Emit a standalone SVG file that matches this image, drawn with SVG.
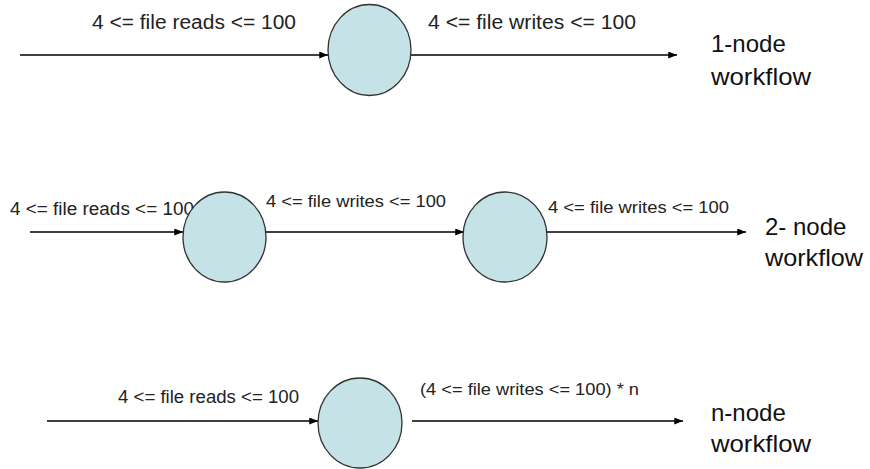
<svg xmlns="http://www.w3.org/2000/svg" width="870" height="469" viewBox="0 0 870 469">
<style>
.bg{fill:#ffffff}
.edge{stroke:#000;stroke-width:1.3;fill:none;marker-end:url(#arr)}
.node{fill:#c5e2e6;stroke:#333;stroke-width:1.3}
.lbl{font-family:"Liberation Sans",Arial,sans-serif;fill:#222}
.big{font-family:"Liberation Sans",Arial,sans-serif;fill:#111;font-size:24px}
</style>
<defs>
<marker id="arr" viewBox="0 0 10 8" refX="10" refY="4" markerWidth="9" markerHeight="7" markerUnits="userSpaceOnUse" orient="auto">
<path d="M0,0 L10,4 L0,8 z" fill="#000"/>
</marker>
</defs>
<rect class="bg" width="870" height="469"/>
<g id="connectors">
<line class="edge" x1="20" y1="55" x2="328" y2="55"/>
<line class="edge" x1="411" y1="55" x2="677" y2="55"/>
<text class="lbl" x="92" y="29" font-size="19.5" textLength="204" lengthAdjust="spacingAndGlyphs">4 &lt;= file reads &lt;= 100</text>
<text class="lbl" x="428" y="29" font-size="19.5" textLength="208" lengthAdjust="spacingAndGlyphs">4 &lt;= file writes &lt;= 100</text>

<line class="edge" x1="30" y1="232" x2="183" y2="232"/>
<line class="edge" x1="266" y1="232" x2="464" y2="232"/>
<line class="edge" x1="547" y1="232" x2="746" y2="232"/>
<text class="lbl" x="10" y="215" font-size="17.5" textLength="184" lengthAdjust="spacingAndGlyphs">4 &lt;= file reads &lt;= 100</text>
<text class="lbl" x="266" y="207" font-size="17" textLength="180" lengthAdjust="spacingAndGlyphs">4 &lt;= file writes &lt;= 100</text>
<text class="lbl" x="548" y="213" font-size="17" textLength="181" lengthAdjust="spacingAndGlyphs">4 &lt;= file writes &lt;= 100</text>

<line class="edge" x1="47" y1="421" x2="318" y2="421"/>
<line class="edge" x1="412" y1="421" x2="683" y2="421"/>
<text class="lbl" x="118" y="403" font-size="17.5" textLength="181" lengthAdjust="spacingAndGlyphs">4 &lt;= file reads &lt;= 100</text>
<text class="lbl" x="420" y="395" font-size="16" textLength="219" lengthAdjust="spacingAndGlyphs">(4 &lt;= file writes &lt;= 100) * n</text>
</g>
<g id="node-1">
<ellipse class="node" cx="369.5" cy="50" rx="41.5" ry="45.5"/>
</g>
<g id="node-2a">
<ellipse class="node" cx="224.5" cy="237" rx="41.5" ry="45"/>
</g>
<g id="node-2b">
<ellipse class="node" cx="505" cy="237" rx="42" ry="45"/>
</g>
<g id="node-n">
<ellipse class="node" cx="360" cy="423" rx="42" ry="45"/>
</g>
<g id="label-1">
<text class="big" x="711" y="52">1-node</text>
<text class="big" x="711" y="85" textLength="100" lengthAdjust="spacingAndGlyphs">workflow</text>
</g>
<g id="label-2">
<text class="big" x="765" y="235">2- node</text>
<text class="big" x="765" y="266" textLength="98" lengthAdjust="spacingAndGlyphs">workflow</text>
</g>
<g id="label-n">
<text class="big" x="711" y="421">n-node</text>
<text class="big" x="711" y="452" textLength="100" lengthAdjust="spacingAndGlyphs">workflow</text>
</g>
</svg>
